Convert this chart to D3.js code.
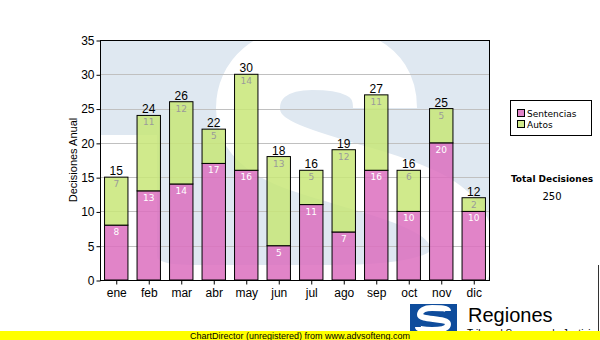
<!DOCTYPE html>
<html>
<head>
<meta charset="utf-8">
<script src="https://cdn.jsdelivr.net/npm/d3@7/dist/d3.min.js"></script>
<style>
  html, body { margin: 0; padding: 0; background: #fff; }
  svg { display: block; }
  text { font-family: "Liberation Sans", Arial, sans-serif; }
</style>
</head>
<body>
<svg id="chart" width="600" height="340"></svg>
<script>
// Monthly decisions, stacked by type
const months = ["ene", "feb", "mar", "abr", "may", "jun", "jul", "ago", "sep", "oct", "nov", "dic"];
const sentencias = [8, 13, 14, 17, 16, 5, 11, 7, 16, 10, 20, 10];
const autos = [7, 11, 12, 5, 14, 13, 5, 12, 11, 6, 5, 2];
const seriesNames = ["Sentencias", "Autos"];
const yTicks = [0, 5, 10, 15, 20, 25, 30, 35];
const totalLabel = "Total Decisiones";
const yTitle = "Decisiones Anual";
const footerText = "ChartDirector (unregistered) from www.advsofteng.com";

const svg = d3.select("#chart");
const W = 600, H = 340;
const plot = { left: 100, right: 490, top: 40, bottom: 280 };

const x = d3.scaleBand().domain(months).range([plot.left, plot.right])
  .paddingInner(0.28).paddingOuter(0.14);
const y = d3.scaleLinear().domain([0, 35]).range([plot.bottom, plot.top]);

const pinkFill = "rgb(220,110,190)";
const greenFill = "rgb(200,230,120)";

// Plot background with a large faded "S" emblem
svg.append("defs").append("clipPath").attr("id", "plotClip")
  .append("rect").attr("x", plot.left).attr("y", plot.top)
  .attr("width", plot.right - plot.left).attr("height", plot.bottom - plot.top);

svg.append("rect").attr("x", plot.left).attr("y", plot.top)
  .attr("width", plot.right - plot.left).attr("height", plot.bottom - plot.top)
  .attr("fill", "#dfe8f1");

svg.append("path")
  .attr("clip-path", "url(#plotClip)")
  .attr("d", "M385,108 C385,65 345,58 312,58 C270,58 248,80 248,108 C248,150 300,160 360,178 C430,198 462,215 462,250 C462,285 420,297 330,297 L190,297 C150,297 125,285 125,255 L125,135")
  .attr("fill", "none").attr("stroke", "#fff").attr("stroke-width", 64);

// Horizontal grid
svg.append("g").selectAll("line").data(yTicks.slice(1, -1)).join("line")
  .attr("x1", plot.left).attr("x2", plot.right)
  .attr("y1", d => Math.round(y(d)) + 0.5).attr("y2", d => Math.round(y(d)) + 0.5)
  .attr("stroke", "#c0c0c0").attr("stroke-width", 1);

// Stacked bars
const rows = months.map((m, i) => ({ m, s: sentencias[i], a: autos[i] }));
const stack = d3.stack().keys(["s", "a"])(rows);
const fills = [pinkFill, greenFill];

const layers = svg.append("g").selectAll("g").data(stack).join("g");
layers.selectAll("rect").data(d => d).join("rect")
  .attr("x", d => x(d.data.m))
  .attr("y", d => y(d[1]))
  .attr("width", x.bandwidth())
  .attr("height", d => y(d[0]) - y(d[1]))
  .attr("fill", (d, i, n) => fills[stack.indexOf(d3.select(n[i].parentNode).datum())])
  .attr("fill-opacity", 0.85)
  .attr("stroke", "#000").attr("stroke-width", 1);

// Segment values
stack.forEach((layer, k) => {
  svg.append("g").selectAll("text").data(layer).join("text")
    .attr("x", d => x(d.data.m) + x.bandwidth() / 2)
    .attr("y", d => y(d[1]) + 10)
    .attr("text-anchor", "middle")
    .style("font-family", "'DejaVu Sans', Verdana, sans-serif")
    .style("font-size", "9px")
    .attr("fill", k === 0 ? "#ffffff" : "#9a9a9a")
    .text(d => d[1] - d[0]);
});

// Totals above bars
svg.append("g").selectAll("text").data(rows).join("text")
  .attr("x", d => x(d.m) + x.bandwidth() / 2)
  .attr("y", d => y(d.s + d.a) - 2)
  .attr("text-anchor", "middle")
  .style("font-size", "12px")
  .attr("fill", "#000")
  .text(d => d.s + d.a);

// Plot frame
svg.append("rect").attr("x", plot.left + 0.5).attr("y", plot.top + 0.5)
  .attr("width", plot.right - plot.left - 1).attr("height", plot.bottom - plot.top)
  .attr("fill", "none").attr("stroke", "#000").attr("stroke-width", 1);

// Axes
const yAxis = svg.append("g").attr("transform", `translate(${plot.left + 0.5},0.5)`)
  .call(d3.axisLeft(y).tickValues(yTicks).tickSize(4).tickPadding(2));
yAxis.select(".domain").remove();
yAxis.selectAll("text").style("font-size", "12px").style("font-family", "'Liberation Sans', Arial, sans-serif").attr("fill", "#000");
yAxis.selectAll("line").attr("stroke", "#000");

const xAxis = svg.append("g").attr("transform", `translate(0.5,${plot.bottom + 0.5})`)
  .call(d3.axisBottom(x).tickSize(4).tickPadding(4));
xAxis.select(".domain").remove();
xAxis.selectAll("text").style("font-size", "12px").style("font-family", "'Liberation Sans', Arial, sans-serif").attr("fill", "#000");
xAxis.selectAll("line").attr("stroke", "#000");

svg.append("line").attr("x1", plot.left).attr("x2", plot.right)
  .attr("y1", plot.bottom + 0.5).attr("y2", plot.bottom + 0.5).attr("stroke", "#000");

svg.append("text")
  .attr("transform", `translate(77,${(plot.top + plot.bottom) / 2}) rotate(-90)`)
  .attr("text-anchor", "middle")
  .style("font-size", "11px")
  .text(yTitle);

// Legend
const lg = svg.append("g");
lg.append("rect").attr("x", 510.5).attr("y", 100.5).attr("width", 81).attr("height", 35)
  .attr("fill", "#fff").attr("stroke", "#000");
seriesNames.forEach((name, i) => {
  lg.append("rect").attr("x", 517.5).attr("y", 109.5 + i * 11).attr("width", 7).attr("height", 7)
    .attr("fill", fills[i]).attr("fill-opacity", 0.85).attr("stroke", "#000");
  lg.append("text").attr("x", 527).attr("y", 117 + i * 11)
    .style("font-family", "'DejaVu Sans', Verdana, sans-serif").style("font-size", "9px")
    .text(name);
});

// Grand total
const grandTotal = d3.sum(sentencias) + d3.sum(autos);
svg.append("text").attr("x", 552).attr("y", 182).attr("text-anchor", "middle")
  .style("font-family", "'DejaVu Sans', Verdana, sans-serif").style("font-size", "9px").style("font-weight", "bold")
  .text(totalLabel);
svg.append("text").attr("x", 552).attr("y", 199.5).attr("text-anchor", "middle")
  .style("font-family", "'DejaVu Sans', Verdana, sans-serif").style("font-size", "10px")
  .text(grandTotal);

// Emblem and caption at the bottom right
svg.append("rect").attr("x", 410).attr("y", 304).attr("width", 47).attr("height", 30).attr("fill", "#0e4c9c");
svg.append("path")
  .attr("d", "M448,311 C448,308 440,308 432,308 C424,308 420,311 420,315 C420,320 448,318 448,324 C448,329 440,330 432,330 C424,330 418,329 418,327")
  .attr("fill", "none").attr("stroke", "#fff").attr("stroke-width", 6);
svg.append("text").attr("x", 468).attr("y", 322).style("font-size", "20px").text("Regiones");
svg.append("text").attr("x", 467).attr("y", 337).style("font-size", "10px").text("Tribunal Supremo de Justicia");
svg.append("line").attr("x1", 598.5).attr("x2", 598.5).attr("y1", 265).attr("y2", 331).attr("stroke", "#333");

// Footer strip
svg.append("rect").attr("x", 0).attr("y", 331).attr("width", W).attr("height", 9).attr("fill", "#ffff00");
svg.append("text").attr("x", 190).attr("y", 338.5).style("font-size", "9px").attr("fill", "#000").text(footerText);
</script>
</body>
</html>
